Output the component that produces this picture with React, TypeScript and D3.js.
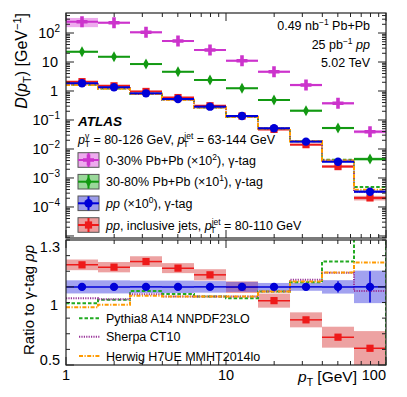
import React from 'react'
import * as d3 from 'd3'

// track pT bin edges [GeV]
const binEdges = [1, 1.585, 2.512, 3.981, 6.31, 10, 15.85, 25.12, 39.81, 63.1, 100]

// D(pT) values (already scaled)
const central = [245, 227, 106, 53, 26, 11.1, 4.6, 1.61, 0.377, 0.0395]
const centralErr = [0.35, 0.08, 0.08, 0.08, 0.08, 0.08, 0.09, 0.1, 0.1, 0.12]
const peripheral = [22.6, 15.2, 8.5, 4.6, 2.4, 1.24, 0.49, 0.209, 0.053, 0.0045]
const peripheralErr = [0.07, 0.06, 0.06, 0.06, 0.06, 0.06, 0.07, 0.08, 0.09, 0.12]
const ppGamma = [1.84, 1.34, 0.83, 0.53, 0.288, 0.137, 0.052, 0.0179, 0.00365, 0.000337]
const ppGammaErr = [0.042, 0.042, 0.04, 0.04, 0.037, 0.032, 0.025, 0.025, 0.043, 0.104]
const ppGammaStat = [0.004, 0.004, 0.004, 0.005, 0.006, 0.008, 0.012, 0.02, 0.036, 0.1]
const ppIncl = [2.1, 1.51, 0.965, 0.594, 0.31, 0.137, 0.0474, 0.0141, 0.00247, 0.000205]

// ratio panel
const inclRatio = [1.141, 1.126, 1.162, 1.12, 1.077, 0.998, 0.912, 0.789, 0.678, 0.607]
const inclRatioErr = [0.034, 0.033, 0.034, 0.032, 0.036, 0.037, 0.045, 0.048, 0.067, 0.11]
const pythiaRatio = [0.896, 0.917, 0.974, 0.955, 0.938, 0.928, 0.97, 1.03, 1.162, 1.45]
const sherpaRatio = [0.928, 0.921, 0.953, 0.938, 0.938, 0.938, 0.97, 1.045, 1.09, 0.974]
const herwigRatio = [0.87, 0.885, 0.944, 0.938, 0.938, 0.938, 0.97, 1.034, 1.092, 1.156]

const yTopTicks = [100, 10, 1, 0.1, 0.01, 0.001, 0.0001]
const yTopLabels = ['10|2', '10', '1', '10|\u22121', '10|\u22122', '10|\u22123', '10|\u22124']
const ratioLabels = ['1.3', '1', '0.5']

const font = '"Liberation Sans", Arial, Helvetica, sans-serif'
const W = 407, H = 397
const L = 66, R = 386
const top1 = 13, bot1 = 238, top2 = 240, bot2 = 365

const x = d3.scaleLog().domain([1, 100]).range([L, R])
const yTop = d3.scaleLog().domain([Math.pow(10, -5.07), Math.pow(10, 2.69)]).range([bot1, top1])
const yRat = d3.scaleLinear().domain([0.5, 1.3]).range([bot2, top2])

const nb = binEdges.length - 1
const centers = d3.range(nb).map(i => Math.sqrt(binEdges[i] * binEdges[i + 1]))

const TIMES = '\u00d7'
const GAMMA = '\u03b3'
const MINUS1 = '\u22121'

const col = {
  mag: '#cc33cc', magFill: '#eeaaee',
  grn: '#129912', grnFill: '#9ad89a',
  blu: '#0000d8', bluFill: 'rgba(70,70,225,0.5)',
  red: '#ee1a1a', redFill: 'rgba(220,70,70,0.5)',
  pyth: '#22aa22', sher: '#993399', herw: '#ff9a00'
}

const Marker = ({ kind, cx, cy, color }: any) => {
  if (kind === 'plus') {
    const a = 5.5, t = 1.8
    return <path d={`M${cx - a},${cy - t}H${cx - t}V${cy - a}H${cx + t}V${cy - t}H${cx + a}V${cy + t}H${cx + t}V${cy + a}H${cx - t}V${cy + t}H${cx - a}Z`} fill={color} />
  }
  if (kind === 'diamond') return <path d={`M${cx},${cy - 5.5}L${cx + 3},${cy}L${cx},${cy + 5.5}L${cx - 3},${cy}Z`} fill={color} />
  if (kind === 'circle') return <circle cx={cx} cy={cy} r={4.2} fill={color} />
  return <rect x={cx - 3.6} y={cy - 3.6} width={7.2} height={7.2} fill={color} />
}

const TopSeries = ({ values, err, stat, color, fill, kind }: any) => (
  <g>
    {values.map((v: number, i: number) => {
      const x0 = x(binEdges[i]), x1 = x(binEdges[i + 1]), xc = x(centers[i])
      const yHi = yTop(v * (1 + err[i])), yLo = yTop(v * (1 - err[i]))
      const s = stat ? stat[i] : 0.01
      return (
        <g key={i}>
          <rect x={x0} y={yHi} width={x1 - x0} height={yLo - yHi} fill={fill} />
          <line x1={x0} x2={x1} y1={yTop(v)} y2={yTop(v)} stroke={color} strokeWidth={2} />
          <line x1={xc} x2={xc} y1={yTop(v * (1 + s))} y2={yTop(v * (1 - s))} stroke={color} strokeWidth={2} />
          <Marker kind={kind} cx={xc} cy={yTop(v)} color={color} />
        </g>
      )
    })}
  </g>
)

const stepPath = (vals: number[], y: any, drop?: number) => {
  let d = ''
  vals.forEach((v, i) => {
    const x0 = x(binEdges[i]), x1 = x(binEdges[i + 1])
    d += (i === 0 ? `M${x0},${y(v)}` : `L${x0},${y(v)}`) + `L${x1},${y(v)}`
  })
  if (drop !== undefined) d += `L${x(100)},${drop}`
  return d
}

const mcStyles = [
  { vals: pythiaRatio, color: col.pyth, dash: '3.5,2', name: 'Pythia8 A14 NNPDF23LO' },
  { vals: sherpaRatio, color: col.sher, dash: '1.2,1.2', name: 'Sherpa CT10' },
  { vals: herwigRatio, color: col.herw, dash: '4,1.5,1.2,1.5', name: 'Herwig H7UE MMHT2014lo' }
]

const xMinor = () => {
  const out: { v: number; major: boolean }[] = []
  for (let d = 0; d <= 2; d++) for (let k = 1; k <= 9; k++) {
    const v = k * Math.pow(10, d)
    if (v <= 100) out.push({ v, major: k === 1 })
  }
  return out
}

const XTicks = ({ yA, yB }: any) => (
  <g stroke="#222" strokeWidth={1}>
    {xMinor().map((t, i) => {
      const xx = x(t.v), len = t.major ? 8 : 4
      return (
        <g key={i}>
          <line x1={xx} x2={xx} y1={yB} y2={yB - len} />
          <line x1={xx} x2={xx} y1={yA} y2={yA + len} />
        </g>
      )
    })}
  </g>
)

const Label = ({ s, xx, yy }: any) => {
  const [base, sup] = s.split('|')
  return (
    <text x={xx} y={yy} textAnchor="end" fontSize={14.5} fontFamily={font}>
      {base}
      {sup && <tspan fontSize={10} dy={-6}>{sup}</tspan>}
    </text>
  )
}

// p with stacked superscript / subscript T
const pSym = (sup: string, supW: number) => [
  <tspan key="a" fontStyle="italic">p</tspan>,
  <tspan key="b" fontSize={8.5} dy={-5}>{sup}</tspan>,
  <tspan key="c" fontSize={8.5} dx={-supW} dy={8.5}>T</tspan>,
  <tspan key="d" dx={Math.max(supW - 5.2, 0)} dy={-3.5}>{' '}</tspan>
]

export default function App() {
  const yTopMinor: { v: number; major: boolean }[] = []
  for (let d = -6; d <= 2; d++) for (let k = 1; k <= 9; k++) {
    const v = k * Math.pow(10, d)
    const [lo, hi] = yTop.domain()
    if (v >= lo && v <= hi) yTopMinor.push({ v, major: k === 1 })
  }
  const ratTicks = d3.range(5, 14).map(k => k / 10)
  const legendRows = [
    { y: 160, kind: 'plus', color: col.mag, fill: col.magFill },
    { y: 181.7, kind: 'diamond', color: col.grn, fill: col.grnFill },
    { y: 203.3, kind: 'circle', color: col.blu, fill: '#9c9cea' },
    { y: 225, kind: 'square', color: col.red, fill: '#ec9c9c' }
  ]
  return (
    <svg width={W} height={H} style={{ position: 'absolute', left: 0, top: 0, background: '#fff' }}>
      <defs>
        <clipPath id="c1"><rect x={L} y={top1} width={R - L} height={bot1 - top1} /></clipPath>
        <clipPath id="c2"><rect x={L} y={top2} width={R - L} height={bot2 - top2} /></clipPath>
      </defs>
      <rect width={W} height={H} fill="#fff" />

      {/* top panel */}
      <g clipPath="url(#c1)">
        <TopSeries values={ppIncl} err={inclRatioErr.map((e, i) => e / inclRatio[i])} color={col.red} fill={col.redFill} kind="square" />
        {mcStyles.map((m, j) => (
          <path key={j} d={stepPath(m.vals.map((r, i) => r * ppGamma[i]), yTop)} fill="none" stroke={m.color} strokeWidth={2} strokeDasharray={m.dash} />
        ))}
        <TopSeries values={ppGamma} err={ppGammaErr} stat={ppGammaStat} color={col.blu} fill={col.bluFill} kind="circle" />
        <TopSeries values={peripheral} err={peripheralErr} color={col.grn} fill={col.grnFill} kind="diamond" />
        <TopSeries values={central} err={centralErr} color={col.mag} fill={col.magFill} kind="plus" />
      </g>
      <g stroke="#222" strokeWidth={1}>
        {yTopMinor.map((t, i) => (
          <g key={i}>
            <line x1={L} x2={L + (t.major ? 8 : 4)} y1={yTop(t.v)} y2={yTop(t.v)} />
            <line x1={R} x2={R - (t.major ? 8 : 4)} y1={yTop(t.v)} y2={yTop(t.v)} />
          </g>
        ))}
      </g>
      <XTicks yA={top1} yB={bot1} />
      <rect x={L} y={top1} width={R - L} height={bot1 - top1} fill="none" stroke="#222" strokeWidth={1.2} />
      {yTopTicks.map((v, i) => (
        <Label key={i} s={yTopLabels[i]} xx={yTopLabels[i].includes('|') ? 60 : 58} yy={yTop(v) + 5} />
      ))}
      <text transform="translate(27,13) rotate(-90)" textAnchor="end" fontSize={16} fontFamily={font}>
        <tspan fontStyle="italic">D</tspan>(<tspan fontStyle="italic">p</tspan>
        <tspan fontSize={11} dy={4}>T</tspan><tspan dy={-4}>) [GeV</tspan>
        <tspan fontSize={11} dy={-6}>{MINUS1}</tspan><tspan dy={6}>]</tspan>
      </text>

      <g fontFamily={font} fontSize={12.5} textAnchor="end">
        <text x={370} y={30}>0.49 nb<tspan fontSize={8.5} dy={-5}>{MINUS1}</tspan><tspan dy={5}> Pb+Pb</tspan></text>
        <text x={370} y={48.5}>25 pb<tspan fontSize={8.5} dy={-5}>{MINUS1}</tspan><tspan dy={5}> </tspan><tspan fontStyle="italic">pp</tspan></text>
        <text x={370} y={67}>5.02 TeV</text>
      </g>
      <g fontFamily={font} fontSize={12.5}>
        <text x={78} y={126} fontWeight="bold" fontStyle="italic" fontSize={13.5}>ATLAS</text>
        <text x={78} y={143.5}>
          {pSym(GAMMA, 4.5)}
          <tspan>= 80-126 GeV, </tspan>
          {pSym('jet', 10)}
          <tspan>= 63-144 GeV</tspan>
        </text>
        {legendRows.map((r, i) => (
          <g key={i}>
            <rect x={78} y={r.y - 7.3} width={21} height={14.6} fill={r.fill} stroke="#555" strokeWidth={1} />
            <line x1={78} x2={99} y1={r.y} y2={r.y} stroke={r.color} strokeWidth={2} />
            <line x1={88.5} x2={88.5} y1={r.y - 7} y2={r.y + 7} stroke={r.color} strokeWidth={2} />
            <Marker kind={r.kind} cx={88.5} cy={r.y} color={r.color} />
          </g>
        ))}
        <text x={106} y={164.5}>{`0-30% Pb+Pb (${TIMES}10`}<tspan fontSize={8.5} dy={-5}>2</tspan><tspan dy={5}>{`), ${GAMMA}-tag`}</tspan></text>
        <text x={106} y={186.2}>{`30-80% Pb+Pb (${TIMES}10`}<tspan fontSize={8.5} dy={-5}>1</tspan><tspan dy={5}>{`), ${GAMMA}-tag`}</tspan></text>
        <text x={106} y={207.8}><tspan fontStyle="italic">pp</tspan>{` (${TIMES}10`}<tspan fontSize={8.5} dy={-5}>0</tspan><tspan dy={5}>{`), ${GAMMA}-tag`}</tspan></text>
        <text x={106} y={229.5}><tspan fontStyle="italic">pp</tspan>{', inclusive jets, '}{pSym('jet', 10)}<tspan>= 80-110 GeV</tspan></text>
      </g>

      {/* ratio panel */}
      <g clipPath="url(#c2)">
        {inclRatio.map((v, i) => {
          const x0 = x(binEdges[i]), x1 = x(binEdges[i + 1]), xc = x(centers[i])
          return (
            <g key={'r' + i}>
              <rect x={x0} y={yRat(v + inclRatioErr[i])} width={x1 - x0} height={yRat(v - inclRatioErr[i]) - yRat(v + inclRatioErr[i])} fill={col.redFill} />
              <line x1={x0} x2={x1} y1={yRat(v)} y2={yRat(v)} stroke={col.red} strokeWidth={1.5} />
              <Marker kind="square" cx={xc} cy={yRat(v)} color={col.red} />
            </g>
          )
        })}
        {ppGamma.map((_, i) => {
          const x0 = x(binEdges[i]), x1 = x(binEdges[i + 1])
          return <rect key={'b' + i} x={x0} y={yRat(1 + ppGammaErr[i])} width={x1 - x0} height={yRat(1 - ppGammaErr[i]) - yRat(1 + ppGammaErr[i])} fill={col.bluFill} />
        })}
        {mcStyles.map((m, j) => (
          <path key={j} d={stepPath(m.vals, yRat, j === 0 ? yRat(0.3) : undefined)} fill="none" stroke={m.color} strokeWidth={2} strokeDasharray={m.dash} />
        ))}
        {ppGamma.map((_, i) => {
          const x0 = x(binEdges[i]), x1 = x(binEdges[i + 1]), xc = x(centers[i])
          return (
            <g key={'bl' + i}>
              <line x1={x0} x2={x1} y1={yRat(1)} y2={yRat(1)} stroke={col.blu} strokeWidth={1.5} />
              <line x1={xc} x2={xc} y1={yRat(1 + ppGammaStat[i])} y2={yRat(1 - ppGammaStat[i])} stroke={col.blu} strokeWidth={1.5} />
              <Marker kind="circle" cx={xc} cy={yRat(1)} color={col.blu} />
            </g>
          )
        })}
      </g>
      <g stroke="#222" strokeWidth={1}>
        {ratTicks.map((v, i) => {
          const len = v === 0.5 || v === 1 ? 8 : 4
          return (
            <g key={i}>
              <line x1={L} x2={L + len} y1={yRat(v)} y2={yRat(v)} />
              <line x1={R} x2={R - len} y1={yRat(v)} y2={yRat(v)} />
            </g>
          )
        })}
      </g>
      <XTicks yA={top2} yB={bot2} />
      <rect x={L} y={top2} width={R - L} height={bot2 - top2} fill="none" stroke="#222" strokeWidth={1.2} />
      <g fontFamily={font} fontSize={14.5} textAnchor="end">
        <text x={60} y={252}>{ratioLabels[0]}</text>
        <text x={58} y={310}>{ratioLabels[1]}</text>
        <text x={60} y={365}>{ratioLabels[2]}</text>
      </g>
      <g fontFamily={font} fontSize={14.5}>
        <text x={x(1)} y={380} textAnchor="middle">1</text>
        <text x={x(10)} y={380} textAnchor="middle">10</text>
        <text x={x(100)} y={380} textAnchor="end">100</text>
      </g>
      <text x={357} y={382} textAnchor="end" fontFamily={font} fontSize={15.5}>
        <tspan fontStyle="italic">p</tspan><tspan fontSize={10.5} dy={4}>T</tspan><tspan dy={-4}> [GeV]</tspan>
      </text>
      <text transform="translate(34,300) rotate(-90)" textAnchor="middle" fontFamily={font} fontSize={15}>
        {`Ratio to ${GAMMA}-tag `}<tspan fontStyle="italic">pp</tspan>
      </text>
      <g fontFamily={font} fontSize={12.5}>
        {mcStyles.map((m, j) => {
          const yy = [318.3, 336.7, 356][j]
          return (
            <g key={j}>
              <line x1={79} x2={100} y1={yy} y2={yy} stroke={m.color} strokeWidth={2} strokeDasharray={m.dash} />
              <text x={106} y={yy + 4.5}>{m.name}</text>
            </g>
          )
        })}
      </g>
    </svg>
  )
}
